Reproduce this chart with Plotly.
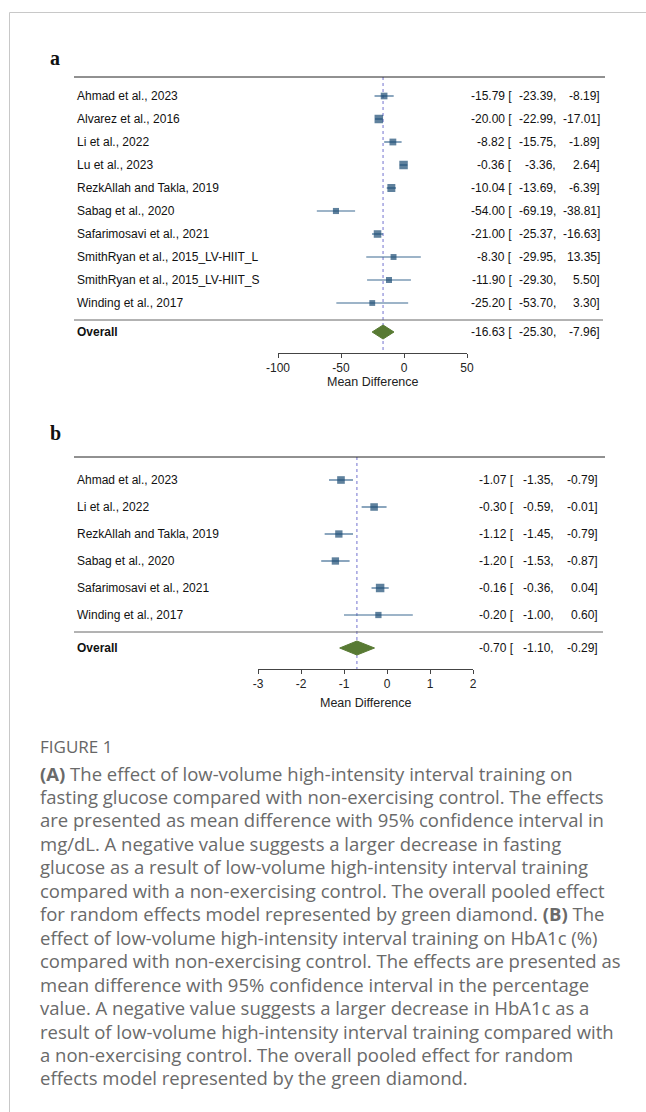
import plotly.graph_objects as go

# ---------------- data ----------------
studies_a = ["Ahmad et al., 2023", "Alvarez et al., 2016", "Li et al., 2022", "Lu et al., 2023",
             "RezkAllah and Takla, 2019", "Sabag et al., 2020", "Safarimosavi et al., 2021",
             "SmithRyan et al., 2015_LV-HIIT_L", "SmithRyan et al., 2015_LV-HIIT_S", "Winding et al., 2017"]
est_a = [-15.79, -20.00, -8.82, -0.36, -10.04, -54.00, -21.00, -8.30, -11.90, -25.20]
lo_a = [-23.39, -22.99, -15.75, -3.36, -13.69, -69.19, -25.37, -29.95, -29.30, -53.70]
hi_a = [-8.19, -17.01, -1.89, 2.64, -6.39, -38.81, -16.63, 13.35, 5.50, 3.30]
overall_a = [-16.63, -25.30, -7.96]
ticks_a = [-100, -50, 0, 50]

studies_b = ["Ahmad et al., 2023", "Li et al., 2022", "RezkAllah and Takla, 2019", "Sabag et al., 2020",
             "Safarimosavi et al., 2021", "Winding et al., 2017"]
est_b = [-1.07, -0.30, -1.12, -1.20, -0.16, -0.20]
lo_b = [-1.35, -0.59, -1.45, -1.53, -0.36, -1.00]
hi_b = [-0.79, -0.01, -0.79, -0.87, 0.04, 0.60]
overall_b = [-0.70, -1.10, -0.29]
ticks_b = [-3, -2, -1, 0, 1, 2]

caption_title = "FIGURE 1"
caption_lines = [
    "<b>(A)</b> The effect of low-volume high-intensity interval training on",
    "fasting glucose compared with non-exercising control. The effects",
    "are presented as mean difference with 95% confidence interval in",
    "mg/dL. A negative value suggests a larger decrease in fasting",
    "glucose as a result of low-volume high-intensity interval training",
    "compared with a non-exercising control. The overall pooled effect",
    "for random effects model represented by green diamond. <b>(B)</b> The",
    "effect of low-volume high-intensity interval training on HbA1c (%)",
    "compared with non-exercising control. The effects are presented as",
    "mean difference with 95% confidence interval in the percentage",
    "value. A negative value suggests a larger decrease in HbA1c as a",
    "result of low-volume high-intensity interval training compared with",
    "a non-exercising control. The overall pooled effect for random",
    "effects model represented by the green diamond.",
]

# ---------------- style ----------------
W, H = 646, 1112
FONT = "Liberation Sans, Arial, sans-serif"
FS = 12
NAVY = "#1b4b74"
CI = "#3d6a92"
GREEN = "#587a33"
DOT = "#8a8ad8"

def px(x):
    return x / W

def py(y):
    return 1 - y / H

fig = go.Figure()
annotations = []
shapes = []

# frame lines
shapes.append(dict(type="line", xref="paper", yref="paper", x0=px(9.5), x1=1, y0=py(12.5), y1=py(12.5),
                   line=dict(color="#c8c8c8", width=1)))
shapes.append(dict(type="line", xref="paper", yref="paper", x0=px(9.5), x1=px(9.5), y0=py(12.5), y1=0,
                   line=dict(color="#c8c8c8", width=1)))


def panel(idx, letter, letter_y, studies, est, lo, hi, overall, ticks, xrange_, xdom,
          first_row, step, top_rule, sep_px, overall_px, axis_px, title_px, title_x,
          cols):
    xa = "x" if idx == 1 else f"x{idx}"
    ya = "y" if idx == 1 else f"y{idx}"
    xkey = "xaxis" if idx == 1 else f"xaxis{idx}"
    ykey = "yaxis" if idx == 1 else f"yaxis{idx}"
    n = len(studies)
    rows = list(range(n))
    pos_overall = (overall_px - first_row) / step
    pos_sep = (sep_px - first_row) / step
    y_top = (top_rule - first_row) / step
    y_bot = (axis_px - first_row) / step

    # CI lines
    xs, ys = [], []
    for r, l, h in zip(rows, lo, hi):
        xs += [l, h, None]
        ys += [r, r, None]
    fig.add_trace(go.Scatter(x=xs, y=ys, mode="lines", line=dict(color=CI, width=1.2),
                             xaxis=xa, yaxis=ya, showlegend=False, hoverinfo="skip"))
    # squares sized by precision
    prec = [3.92 / (h - l) for l, h in zip(lo, hi)]
    pmax = max(prec)
    sizes = [5.5 + 3 * p / pmax for p in prec]
    fig.add_trace(go.Scatter(x=est, y=rows, mode="markers",
                             marker=dict(symbol="square", size=sizes, color=NAVY, line=dict(width=0)),
                             xaxis=xa, yaxis=ya, showlegend=False))
    # diamond
    e, l, h = overall
    dh = 7 / step
    fig.add_trace(go.Scatter(x=[l, e, h, e, l], y=[pos_overall, pos_overall - dh, pos_overall,
                                                    pos_overall + dh, pos_overall],
                             mode="lines", fill="toself", fillcolor=GREEN, line=dict(color=GREEN, width=1),
                             xaxis=xa, yaxis=ya, showlegend=False))
    # dotted reference line at pooled estimate
    shapes.append(dict(type="line", xref=xa, yref=ya, x0=e, x1=e, y0=y_top, y1=y_bot,
                       line=dict(color=DOT, width=1.2, dash="dot"), layer="below"))
    # rules
    shapes.append(dict(type="line", xref="paper", yref="paper", x0=px(74), x1=px(605),
                       y0=py(top_rule), y1=py(top_rule), line=dict(color="#222", width=1)))
    shapes.append(dict(type="line", xref="paper", yref=ya, x0=px(74), x1=px(603),
                       y0=pos_sep, y1=pos_sep, line=dict(color="#666", width=1)))

    dom_y = [py(axis_px), py(top_rule)]
    fig.update_layout(**{
        xkey: dict(domain=xdom, range=xrange_, anchor=ya, tickvals=ticks,
                   ticktext=[str(t) for t in ticks], showgrid=False, zeroline=False,
                   showline=True, linecolor="#444", linewidth=1, ticks="outside", ticklen=4,
                   tickcolor="#444", tickfont=dict(family=FONT, size=FS, color="#222"),
                   fixedrange=True, automargin=False),
        ykey: dict(domain=dom_y, range=[y_bot, y_top], anchor=xa, visible=False,
                   showgrid=False, zeroline=False, fixedrange=True, automargin=False),
    })

    # panel letter
    annotations.append(dict(x=px(48), y=py(letter_y), xref="paper", yref="paper", text=f"<b>{letter}</b>",
                            showarrow=False, xanchor="left", yanchor="middle",
                            font=dict(family="Liberation Serif, serif", size=20, color="#111")))
    # study labels and values
    c1, c2, c3 = cols
    labels = studies + ["<b>Overall</b>"]
    ests = est + [overall[0]]
    los = lo + [overall[1]]
    his = hi + [overall[2]]
    yposs = rows + [pos_overall]
    for lab, ee, ll, hh, yp in zip(labels, ests, los, his, yposs):
        annotations.append(dict(x=px(75), y=yp, xref="paper", yref=ya, text=lab, showarrow=False,
                                xanchor="left", yanchor="middle",
                                font=dict(family=FONT, size=FS, color="#111")))
        for txt, cx in ((f"{ee:.2f} [", c1), (f"{ll:.2f},", c2), (f"{hh:.2f}]", c3)):
            annotations.append(dict(x=px(cx), y=yp, xref="paper", yref=ya, text=txt, showarrow=False,
                                    xanchor="right", yanchor="middle",
                                    font=dict(family=FONT, size=FS, color="#111")))
    annotations.append(dict(x=px(title_x), y=py(title_px), xref="paper", yref="paper",
                            text="Mean Difference", showarrow=False, xanchor="center", yanchor="middle",
                            font=dict(family=FONT, size=12.5, color="#222")))


panel(1, "a", 58, studies_a, est_a, lo_a, hi_a, overall_a, ticks_a, [-100, 50],
      [px(278), px(467)], first_row=96, step=23, top_rule=77, sep_px=320, overall_px=332,
      axis_px=353, title_px=382, title_x=373, cols=(514, 558, 602))
panel(2, "b", 433, studies_b, est_b, lo_b, hi_b, overall_b, ticks_b, [-3, 2],
      [px(258), px(473)], first_row=480, step=27, top_rule=457, sep_px=632, overall_px=648,
      axis_px=669, title_px=703, title_x=366, cols=(516, 556, 600))

# caption
CAP_FONT = "Open Sans, Noto Sans, sans-serif"
annotations.append(dict(x=px(38), y=py(746), xref="paper", yref="paper", text=caption_title,
                        showarrow=False, xanchor="left", yanchor="middle",
                        font=dict(family=CAP_FONT, size=17, color="#666")))
for k, line in enumerate(caption_lines):
    annotations.append(dict(x=px(38), y=py(773 + 23.46 * k), xref="paper", yref="paper", text=line,
                            showarrow=False, xanchor="left", yanchor="middle",
                            font=dict(family=CAP_FONT, size=18.5, color="#6a6a6a")))

fig.update_layout(width=W, height=H, margin=dict(l=0, r=0, t=0, b=0, pad=0, autoexpand=False),
                  autosize=False,
                  paper_bgcolor="white", plot_bgcolor="rgba(0,0,0,0)",
                  annotations=annotations, shapes=shapes, showlegend=False)

fig.write_html("out.html", config={"displayModeBar": False, "responsive": False})
